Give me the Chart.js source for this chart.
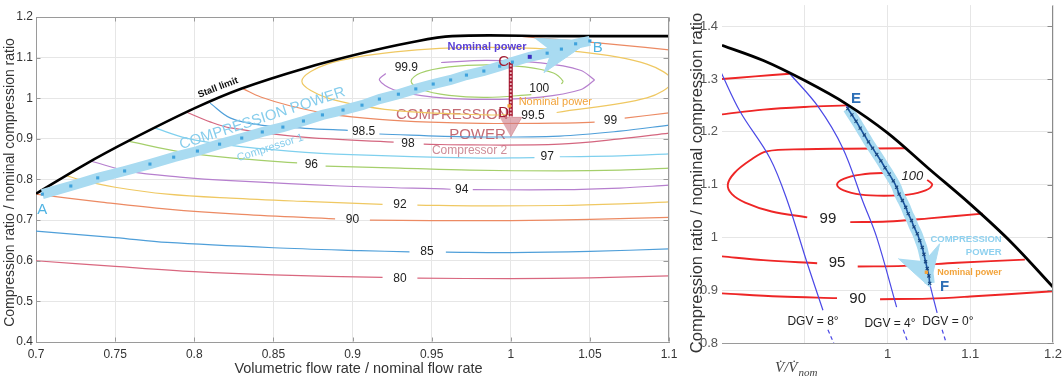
<!DOCTYPE html>
<html lang="en">
<head>
<meta charset="UTF-8" />
<title>Compressor maps</title>
<script src="https://cdn.jsdelivr.net/npm/chart.js"></script>
<style>
  body { margin: 0; background: #fff; width: 1064px; height: 378px; overflow: hidden; position: relative; }
  #map1 { position: absolute; left: 0; top: 0; }
  #map2 { position: absolute; left: 684px; top: 0; }
</style>
</head>
<body>
<canvas id="map1" width="680" height="378"></canvas>
<canvas id="map2" width="380" height="378"></canvas>
<script>
// ---------- compressor 1 / 2 map (left) ----------
// efficiency contours, [flow, ratio]; null = break for the level label
const eff80 = [[0.700,0.600],[0.750,0.586],[0.800,0.573],[0.850,0.565],[0.919,0.559],null,[0.941,0.557],[1.000,0.556],[1.050,0.558],[1.100,0.563]];
const eff85 = [[0.700,0.673],[0.750,0.657],[0.783,0.645],[0.850,0.632],[0.905,0.625],[0.936,0.622],null,[0.959,0.621],[1.000,0.620],[1.050,0.623],[1.100,0.629]];
const eff90 = [[0.700,0.764],[0.740,0.745],[0.783,0.727],[0.830,0.714],[0.889,0.703],null,[0.911,0.700],[0.950,0.699],[1.000,0.699],[1.050,0.702],[1.100,0.707]];
const eff92 = [[0.719,0.810],[0.728,0.799],[0.750,0.781],[0.783,0.764],[0.823,0.754],[0.870,0.746],[0.919,0.739],null,[0.941,0.737],[0.980,0.735],[1.030,0.736],[1.070,0.740],[1.100,0.745]];
const eff94 = [[0.735,0.845],[0.759,0.820],[0.791,0.806],[0.823,0.797],[0.892,0.784],[0.962,0.776],null,[0.976,0.775],[1.031,0.775],[1.069,0.779],[1.100,0.786]];
const eff96 = [[0.759,0.894],[0.791,0.868],[0.823,0.853],[0.865,0.841],null,[0.883,0.833],[0.930,0.828],[0.974,0.823],[1.031,0.821],[1.069,0.823],[1.100,0.828]];
const eff97 = [[0.775,0.927],[0.795,0.902],[0.823,0.884],[0.860,0.870],[0.899,0.861],[0.974,0.853],[1.015,0.854],null,[1.031,0.856],[1.069,0.858],[1.100,0.863]];
const eff98 = [[0.795,0.966],[0.810,0.942],[0.823,0.927],[0.867,0.905],[0.926,0.892],null,[0.945,0.887],[0.974,0.885],[1.031,0.887],[1.069,0.900],[1.100,0.914]];
const eff985 = [[0.810,0.988],[0.823,0.951],[0.842,0.934],[0.870,0.926],[0.897,0.921],null,[0.917,0.912],[0.974,0.905],[1.031,0.907],[1.069,0.919],[1.100,0.934]];
const eff99 = [[0.831,1.023],[0.842,1.003],[0.861,0.981],[0.886,0.961],[0.917,0.948],[0.949,0.941],[0.981,0.938],[1.031,0.939],[1.053,0.941],null,[1.072,0.951],[1.100,0.964],null,[1.005,1.153],[1.040,1.141],[1.070,1.131],[1.100,1.119]];
const eff995 = [[1.029,0.965],[1.086,1.001],[1.102,1.042],[1.086,1.084],[1.044,1.114],[0.985,1.125],[0.927,1.114],[0.884,1.084],[0.868,1.042],[0.884,1.001],[0.927,0.970],[0.985,0.959],[1.001,0.960]];
const eff999 = [[1.053,1.045],[1.044,1.069],[1.019,1.087],[0.985,1.093],[0.956,1.088],null,[0.921,1.061],[0.917,1.045],[0.926,1.021],[0.951,1.003],[0.985,0.997],[1.019,1.003],[1.044,1.021],[1.053,1.045]];
const eff100 = [[1.032,1.035],[1.033,1.042],[1.027,1.062],[1.009,1.077],[0.985,1.082],[0.961,1.077],[0.943,1.062],[0.937,1.042],[0.943,1.022],[0.961,1.007],[0.985,1.002],[1.013,1.009]];

const stallLimit = [[0.700,0.765],[0.730,0.835],[0.760,0.898],[0.800,0.975],[0.830,1.024],[0.870,1.074],[0.905,1.110],[0.935,1.136],[0.963,1.153],[1.030,1.153],[1.100,1.153]];

// compressor 1 operating points A -> B
const path1 = [[0.704,0.764],[0.722,0.784],[0.739,0.804],[0.756,0.821],[0.772,0.838],[0.787,0.855],[0.802,0.870],[0.816,0.887],[0.830,0.902],[0.843,0.917],[0.856,0.929],[0.869,0.944],[0.881,0.959],[0.894,0.971],[0.906,0.983],[0.917,0.998],[0.929,1.010],[0.940,1.023],[0.951,1.035],[0.962,1.045],[0.972,1.057],[0.983,1.067],[0.993,1.079],[1.001,1.089],[1.012,1.102],[1.023,1.111],[1.032,1.121],[1.041,1.134],[1.050,1.141]];
const arrow1 = [[1.015,1.148],[1.050,1.141],[1.021,1.063],[1.026,1.115]];
// compressor 2 operating points C -> D
const path2 = [[1.000,1.089],[1.000,1.080],[1.000,1.071],[1.000,1.062],[1.000,1.053],[1.000,1.044],[1.000,1.035],[1.000,1.026],[1.000,1.017],[1.000,1.008],[1.000,0.999],[1.000,0.990],[1.000,0.981],[1.000,0.972],[1.000,0.963],[1.000,0.955]];
const arrow2 = [[0.993,0.953],[1.007,0.953],[1.000,0.905]];
const nominal1 = [[1.012,1.102]];
const nominal2 = [[0.999,0.981]];

// ---------- DGV map (right) ----------
const limitCurve = [[0.800,1.364],[0.850,1.335],[0.900,1.297],[0.950,1.253],[1.000,1.198],[1.050,1.130],[1.100,1.063],[1.150,0.990],[1.200,0.906]];
const red1 = [[0.800,1.300],[0.840,1.305],[0.882,1.310]];
const red2 = [[0.800,1.233],[0.850,1.242],[0.900,1.247],[0.951,1.250]];
const red99 = [[1.021,1.169],[0.950,1.168],[0.900,1.167],[0.854,1.163],[0.834,1.146],[0.815,1.122],[0.807,1.100],[0.812,1.082],[0.828,1.066],[0.860,1.049],[0.903,1.038],null,[0.955,1.029],[1.000,1.030],[1.050,1.036],[1.115,1.045]];
const red100 = [[1.007,1.121],[0.996,1.122],[0.968,1.119],[0.947,1.111],[0.939,1.100],[0.947,1.089],[0.968,1.081],[0.996,1.079],[1.025,1.081],[1.046,1.089],[1.054,1.100],[1.048,1.109]];
const red95 = [[0.800,0.964],[0.850,0.957],[0.915,0.951],null,[0.964,0.945],[1.020,0.946],[1.084,0.952],[1.166,0.958]];
const red90 = [[0.800,0.894],[0.870,0.888],[0.939,0.885],null,[0.991,0.883],[1.050,0.884],[1.100,0.888],[1.200,0.898]];
const dgv8 = [[0.799,1.312],[0.822,1.238],[0.858,1.150],[0.879,1.069],[0.903,0.951],[0.922,0.862]];
const dgv8Tail = [[0.928,0.825],[0.935,0.800]];
const dgv4 = [[0.882,1.310],[0.916,1.248],[0.946,1.169],[0.970,1.069],[0.987,1.000],[1.011,0.868]];
const dgv4Tail = [[1.019,0.825],[1.025,0.800]];
const dgv0 = [[0.950,1.251],[0.982,1.169],[1.007,1.107],[1.025,1.045],[1.042,0.981],[1.051,0.913],[1.060,0.857]];
const dgv0Tail = [[1.066,0.825],[1.071,0.800]];
// operating points E -> F
const path3 = [[0.952,1.244],[0.957,1.232],[0.962,1.220],[0.967,1.207],[0.972,1.194],[0.977,1.181],[0.982,1.169],[0.987,1.157],[0.992,1.145],[0.997,1.132],[1.002,1.120],[1.007,1.107],[1.011,1.095],[1.014,1.082],[1.018,1.070],[1.022,1.057],[1.025,1.045],[1.029,1.032],[1.032,1.020],[1.036,1.007],[1.039,0.994],[1.042,0.981],[1.044,0.968],[1.046,0.954],[1.048,0.941],[1.050,0.927],[1.051,0.913]];
const arrow3 = [[1.013,0.960],[1.051,0.906],[1.063,0.988],[1.045,0.955]];
const nominal3 = [[1.047,0.934]];

const SANS = '"Liberation Sans", Arial, Helvetica, sans-serif';
const SERIF = '"Liberation Serif", "DejaVu Serif", serif';

function toXY(list) {
  return list.map(p => (p ? { x: p[0], y: p[1] } : { x: null, y: null }));
}

function line(points, color, width, more) {
  return Object.assign({
    data: toXY(points), showLine: true, borderColor: color, backgroundColor: color,
    borderWidth: width || 1.2, pointRadius: 0, tension: 0.35
  }, more || {});
}

function marks(points, style, radius, color, more) {
  return Object.assign({
    data: toXY(points), showLine: false, pointStyle: style, pointRadius: radius,
    backgroundColor: color, borderColor: color, borderWidth: 0
  }, more || {});
}

function shape(points, color) {
  return {
    data: toXY(points), showLine: true, fill: 'shape', backgroundColor: color,
    borderColor: color, borderWidth: 1, pointRadius: 0, tension: 0
  };
}

// first item is drawn first (bottom)
function stack(list) {
  return list.map((d, i) => Object.assign(d, { order: list.length - i }));
}

// fixed axis boxes so the plot area sits where we want it
function fitBox(size) {
  return function (scale) {
    if (scale.isHorizontal()) scale.height = size; else scale.width = size;
    scale.paddingTop = scale.paddingBottom = scale.paddingLeft = scale.paddingRight = 0;
  };
}

function fmt(d) {
  return v => String(+v.toFixed(d));
}

function drawNotes(chart, list) {
  const { ctx, scales: { x, y } } = chart;
  list.forEach(n => {
    ctx.save();
    ctx.translate(x.getPixelForValue(n.x), y.getPixelForValue(n.y));
    if (n.r) ctx.rotate(n.r * Math.PI / 180);
    ctx.font = (n.f || '12px') + ' ' + SANS;
    ctx.fillStyle = n.c || '#222';
    ctx.textAlign = n.a || 'center';
    ctx.textBaseline = 'middle';
    ctx.fillText(n.t, 0, 0);
    ctx.restore();
  });
}

function notesPlugin(under, over, decorate) {
  return {
    id: 'notes',
    beforeDatasetsDraw(chart) { drawNotes(chart, under); },
    afterDatasetsDraw(chart) { drawNotes(chart, over); },
    afterDraw(chart) { decorate(chart); }
  };
}

// inward tick marks + frame lines
function frame(chart, sides, color) {
  const { ctx, chartArea: a, scales: { x, y } } = chart;
  const L = Math.round(a.left) + 0.5, R = Math.round(a.right) - 0.5;
  const T = Math.round(a.top) + 0.5, B = Math.round(a.bottom) - 0.5;
  ctx.save();
  ctx.strokeStyle = color;
  ctx.lineWidth = 1;
  ctx.beginPath();
  if (sides.includes('top')) { ctx.moveTo(L, T); ctx.lineTo(R, T); }
  if (sides.includes('right')) { ctx.moveTo(R, T); ctx.lineTo(R, B); }
  x.ticks.forEach(t => {
    const px = Math.round(x.getPixelForValue(t.value)) + 0.5;
    if (sides.includes('top')) { ctx.moveTo(px, T); ctx.lineTo(px, T + 4); }
    if (sides.includes('bottom')) { ctx.moveTo(px, B); ctx.lineTo(px, B - 4); }
  });
  y.ticks.forEach(t => {
    const py = Math.round(y.getPixelForValue(t.value)) + 0.5;
    if (sides.includes('right')) { ctx.moveTo(R, py); ctx.lineTo(R - 5, py); }
    if (sides.includes('left')) { ctx.moveTo(L, py); ctx.lineTo(L + 4, py); }
  });
  ctx.stroke();
  ctx.restore();
}

function axis(min, max, step, box, pad, size, color, label, more) {
  return Object.assign({
    type: 'linear', min: min, max: max, afterFit: fitBox(box),
    ticks: { stepSize: step, padding: pad, color: color, font: { family: SANS, size: size },
             maxRotation: 0, autoSkip: false, includeBounds: false, callback: label },
    grid: { color: '#e6e6e6', drawTicks: false },
    border: { color: '#9a9a9a' }
  }, more || {});
}

// ---------- left chart ----------
const contourTags1 = [
  { t: '80', x: 0.930, y: 0.557 }, { t: '85', x: 0.947, y: 0.623 }, { t: '90', x: 0.900, y: 0.702 },
  { t: '92', x: 0.930, y: 0.737 }, { t: '94', x: 0.969, y: 0.775 }, { t: '96', x: 0.874, y: 0.836 },
  { t: '97', x: 1.023, y: 0.856 }, { t: '98', x: 0.935, y: 0.889 }, { t: '98.5', x: 0.907, y: 0.917 },
  { t: '99', x: 1.063, y: 0.944 }, { t: '99.5', x: 1.014, y: 0.956 }, { t: '99.9', x: 0.934, y: 1.075 },
  { t: '100', x: 1.018, y: 1.024 }
].map(n => Object.assign(n, { f: '12px', c: '#222' }));

const notes1Under = [
  { t: 'COMPRESSION', x: 0.963, y: 0.959, c: '#c46b74', f: '15px' },
  { t: 'POWER', x: 0.979, y: 0.910, c: '#c46b74', f: '15px' },
  { t: 'Compressor 2', x: 0.974, y: 0.870, c: '#cf8d98', f: '12px' }
];
const notes1Over = contourTags1.concat([
  { t: 'Stall limit', x: 0.815, y: 1.026, c: '#111', f: 'bold 9.5px', r: -21 },
  { t: 'COMPRESSION POWER', x: 0.843, y: 0.950, c: '#86cdec', f: '15px', r: -18 },
  { t: 'Compressor 1', x: 0.848, y: 0.878, c: '#86cdec', f: '11px', r: -18 },
  { t: 'A', x: 0.704, y: 0.725, c: '#4fb3e3', f: '15px' },
  { t: 'B', x: 1.055, y: 1.124, c: '#4fb3e3', f: '15px' },
  { t: 'C', x: 0.9955, y: 1.089, c: '#a31d33', f: '15px' },
  { t: 'D', x: 0.9955, y: 0.964, c: '#a31d33', f: '15px' },
  { t: 'Nominal power', x: 0.985, y: 1.126, c: '#5a41d6', f: 'bold 11px' },
  { t: 'Nominal power', x: 1.005, y: 0.991, c: '#f2a33a', f: '11px', a: 'left' }
]);

function leftTitles(chart) {
  const { ctx, chartArea: a } = chart;
  frame(chart, ['top', 'right', 'bottom', 'left'], '#9a9a9a');
  ctx.save();
  ctx.fillStyle = '#333';
  ctx.textAlign = 'center';
  ctx.textBaseline = 'middle';
  ctx.font = '14.5px ' + SANS;
  ctx.fillText('Volumetric flow rate / nominal flow rate', (a.left + a.right) / 2 + 6, a.bottom + 27);
  ctx.translate(10, (a.top + a.bottom) / 2 + 3);
  ctx.rotate(-Math.PI / 2);
  ctx.font = '14px ' + SANS;
  ctx.fillText('Compression ratio / nominal compression ratio', 0, 0);
  ctx.restore();
}

const bandBlue = '#a9dbf1';

new Chart(document.getElementById('map1'), {
  type: 'scatter',
  data: {
    datasets: stack([
      line(eff80, '#d9677f'), line(eff85, '#4f9fd9'), line(eff90, '#ec8a63'), line(eff92, '#efc862'),
      line(eff94, '#b67fce'), line(eff96, '#a5cf6b'), line(eff97, '#7fd0ee'), line(eff98, '#d4667f'),
      line(eff985, '#4f9fd9'), line(eff99, '#ec8a63'), line(eff995, '#efc862'), line(eff999, '#b67fce'),
      line(eff100, '#a5cf6b'),
      line(stallLimit, '#000', 2.6),
      line(path1, bandBlue, 10, { tension: 0 }),
      shape(arrow1, bandBlue),
      shape(arrow2, 'rgba(205,120,132,0.6)'),
      line(path2, '#a3142c', 4, { tension: 0 }),
      marks(path2, 'rect', 1.3, '#efc0c8'),
      marks(path1, 'rect', 2.2, '#3fa2dc'),
      marks(nominal1, 'rect', 2.8, '#3d2fbf'),
      marks(nominal2, 'rect', 2.4, '#f2a33a')
    ])
  },
  options: {
    responsive: false,
    animation: false,
    events: [],
    layout: { padding: { left: 0, top: 17, right: 11, bottom: 0 } },
    plugins: { legend: { display: false }, tooltip: { enabled: false } },
    scales: {
      x: axis(0.7, 1.1, 0.05, 36, 5, 12, '#333', fmt(2)),
      y: axis(0.4, 1.2, 0.1, 36, 3, 12, '#333', fmt(1))
    }
  },
  plugins: [notesPlugin(notes1Under, notes1Over, leftTitles)]
});

// ---------- right chart ----------
const notes2 = [
  { t: '100', x: 1.030, y: 1.116, f: 'italic 13px' },
  { t: '99', x: 0.928, y: 1.035, f: '15px' },
  { t: '95', x: 0.939, y: 0.951, f: '15px' },
  { t: '90', x: 0.964, y: 0.883, f: '15px' },
  { t: 'E', x: 0.962, y: 1.263, c: '#2d6fb7', f: 'bold 15px' },
  { t: 'F', x: 1.069, y: 0.906, c: '#2d6fb7', f: 'bold 15px' },
  { t: 'COMPRESSION', x: 1.138, y: 0.996, c: '#8fd1ef', f: 'bold 9.5px', a: 'right' },
  { t: 'POWER', x: 1.138, y: 0.971, c: '#8fd1ef', f: 'bold 9.5px', a: 'right' },
  { t: 'Nominal power', x: 1.060, y: 0.934, c: '#f2a33a', f: 'bold 9px', a: 'left' },
  { t: 'DGV = 8°', x: 0.910, y: 0.840 },
  { t: 'DGV = 4°', x: 1.003, y: 0.836 },
  { t: 'DGV = 0°', x: 1.073, y: 0.840 }
];

function rightTitles(chart) {
  const { ctx, chartArea: a } = chart;
  frame(chart, ['right'], '#8a8a8a');
  ctx.save();
  ctx.fillStyle = '#444';
  ctx.textBaseline = 'alphabetic';
  ctx.font = 'italic 15px ' + SERIF;
  const x0 = 91, base = 372;
  const head = 'V\u0307/V\u0307';
  ctx.fillText(head, x0, base);
  const w = ctx.measureText(head).width;
  ctx.font = 'italic 11px ' + SERIF;
  ctx.fillText('nom', x0 + w + 1, base + 4);
  ctx.restore();
  ctx.save();
  ctx.fillStyle = '#333';
  ctx.textAlign = 'center';
  ctx.textBaseline = 'middle';
  ctx.font = '16.5px ' + SANS;
  ctx.translate(13, (a.top + a.bottom) / 2 + 9);
  ctx.rotate(-Math.PI / 2);
  ctx.fillText('Compression ratio / nominal compression ratio', 0, 0);
  ctx.restore();
}

const red = '#ee2626';
const dgvBlue = '#4a48e6';

new Chart(document.getElementById('map2'), {
  type: 'scatter',
  data: {
    datasets: stack([
      line(red1, red, 1.9), line(red2, red, 1.9), line(red99, red, 1.9), line(red100, red, 1.9),
      line(red95, red, 1.9), line(red90, red, 1.9),
      line(dgv8, dgvBlue, 1.2), line(dgv8Tail, dgvBlue, 1.2, { borderDash: [4, 3] }),
      line(dgv4, dgvBlue, 1.2), line(dgv4Tail, dgvBlue, 1.2, { borderDash: [4, 3] }),
      line(dgv0, dgvBlue, 1.2), line(dgv0Tail, dgvBlue, 1.2, { borderDash: [4, 3] }),
      line(path3, bandBlue, 10, { tension: 0.3 }),
      shape(arrow3, bandBlue),
      line(limitCurve, '#000', 2.8),
      line(path3, '#1b56a0', 1.6, { tension: 0.3 }),
      marks(path3, 'crossRot', 2.2, '#17457f', { borderWidth: 1.1 }),
      marks(nominal3, 'rect', 2.4, '#f2a33a')
    ])
  },
  options: {
    responsive: false,
    animation: false,
    events: [],
    layout: { padding: { left: 0, top: 3, right: 11, bottom: 0 } },
    plugins: { legend: { display: false }, tooltip: { enabled: false } },
    scales: {
      x: axis(0.8, 1.2, 0.1, 35, 4, 13, '#444', v => (v < 0.95 ? '' : fmt(1)(v)), {
        grid: { drawTicks: false, color: c => (c.tick && c.tick.value < 0.85 ? 'rgba(0,0,0,0)' : '#e6e6e6') }
      }),
      y: axis(0.8, 1.44, 0.1, 38, 4, 13, '#555', fmt(1), { border: { display: false } })
    }
  },
  plugins: [notesPlugin([], notes2, rightTitles)]
});
</script>
</body>
</html>
